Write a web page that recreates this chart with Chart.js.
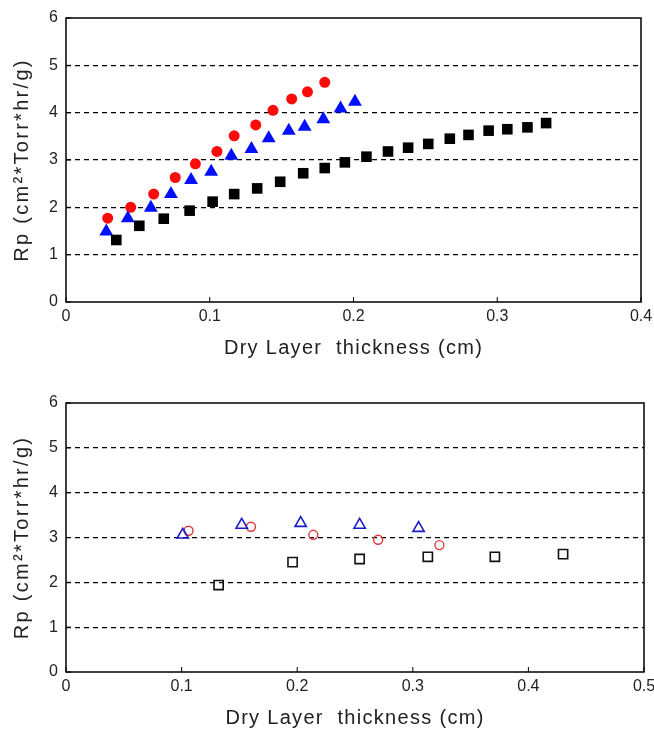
<!DOCTYPE html>
<html>
<head>
<meta charset="utf-8">
<script src="https://cdn.jsdelivr.net/npm/chart.js@4.4.1/dist/chart.umd.min.js"></script>
<style>
    body { margin: 0; background: #fff; }
    .wrap { position: absolute; left: 0; width: 654px; height: 360px; }
    #topWrap { top: 0; }
    #bottomWrap { top: 370px; }
</style>
</head>
<body>
<div class="wrap" id="topWrap"><canvas id="topChart" width="654" height="360"></canvas></div>
<div class="wrap" id="bottomWrap"><canvas id="bottomChart" width="654" height="360"></canvas></div>
<script>
// ─── Data ───

// top panel (filled markers)
const topRedX = [0.029, 0.045, 0.061, 0.076, 0.090, 0.105, 0.117, 0.132, 0.144, 0.157, 0.168, 0.180];
const topRedY = [1.77, 2.00, 2.28, 2.63, 2.92, 3.18, 3.51, 3.74, 4.05, 4.29, 4.44, 4.64];

const topBlueX = [0.028, 0.043, 0.059, 0.073, 0.087, 0.101, 0.115, 0.129, 0.141, 0.155, 0.166, 0.179, 0.191, 0.201];
const topBlueY = [1.49, 1.77, 1.99, 2.28, 2.58, 2.75, 3.09, 3.23, 3.46, 3.62, 3.70, 3.86, 4.09, 4.23];

const topBlackX = [0.035, 0.051, 0.068, 0.086, 0.102, 0.117, 0.133, 0.149, 0.165, 0.180, 0.194,
    0.209, 0.224, 0.238, 0.252, 0.267, 0.280, 0.294, 0.307, 0.321, 0.334];
const topBlackY = [1.31, 1.61, 1.76, 1.93, 2.12, 2.28, 2.40, 2.54, 2.72, 2.83, 2.95,
    3.07, 3.18, 3.26, 3.34, 3.45, 3.53, 3.62, 3.65, 3.69, 3.78];

// bottom panel (open markers)
const botBlueX = [0.101, 0.152, 0.203, 0.254, 0.305];
const botBlueY = [3.06, 3.28, 3.32, 3.28, 3.21];

const botRedX = [0.106, 0.160, 0.214, 0.270, 0.323];
const botRedY = [3.15, 3.24, 3.06, 2.95, 2.83];

const botBlackX = [0.132, 0.196, 0.254, 0.313, 0.371, 0.430];
const botBlackY = [1.94, 2.45, 2.52, 2.57, 2.57, 2.63];

// axes
const yTicks = [0, 1, 2, 3, 4, 5, 6];
const topXMax = 0.4;
const botXMax = 0.5;

const X_TITLE = 'Dry Layer  thickness (cm)';
const Y_TITLE = 'Rp (cm\u00B2*Torr*hr/g)';

const TICK_FONT = { family: "'Liberation Sans Narrow', 'Liberation Sans', Arial, sans-serif", size: 16 };
const TITLE_FONT = { family: "'Liberation Sans', Arial, sans-serif", size: 20 };

function pts(xs, ys) {
    return xs.map((x, i) => ({ x, y: ys[i] }));
}

// Frame box + small inward tick marks, like the original plot
const framePlugin = {
    id: 'frame',
    beforeDraw(chart) {
        // the original axis titles are widely spaced
        Object.values(chart.scales).forEach(s => {
            if (s._spaced) return;
            const orig = s.drawTitle;
            const spacing = s.axis === 'x' ? '1.3px' : '2.3px';
            s.drawTitle = function () {
                chart.ctx.save();
                chart.ctx.letterSpacing = spacing;
                orig.call(this);
                chart.ctx.restore();
            };
            s._spaced = true;
        });
    },
    afterDraw(chart) {
        const { ctx, chartArea: a, scales } = chart;
        ctx.save();
        ctx.strokeStyle = '#000';
        ctx.lineWidth = 1.5;
        ctx.strokeRect(a.left, a.top, a.right - a.left, a.bottom - a.top);
        ctx.lineWidth = 1;
        scales.x.ticks.forEach(t => {
            const px = scales.x.getPixelForValue(t.value);
            ctx.beginPath();
            ctx.moveTo(px, a.bottom);
            ctx.lineTo(px, a.bottom - 5);
            ctx.stroke();
        });
        scales.y.ticks.forEach(t => {
            const py = scales.y.getPixelForValue(t.value);
            ctx.beginPath();
            ctx.moveTo(a.left, py);
            ctx.lineTo(a.left + 5, py);
            ctx.stroke();
        });
        ctx.restore();
    }
};

function makeOptions(xMax, padTop, padRight) {
    return {
        responsive: false,
        animation: false,
        layout: { padding: { top: padTop, right: padRight, left: 0, bottom: 0 } },
        plugins: { legend: { display: false }, tooltip: { enabled: false } },
        scales: {
            x: {
                type: 'linear',
                min: 0,
                max: xMax,
                afterFit: s => {
                    s.height = 58;
                    s.paddingLeft = 0;
                    s.paddingRight = 0;
                },
                afterBuildTicks: s => {
                    const t = [];
                    for (let i = 0; i <= Math.round(xMax * 10); i++) t.push({ value: i / 10 });
                    s.ticks = t;
                },
                ticks: {
                    color: '#222',
                    font: TICK_FONT,
                    padding: 5,
                    maxRotation: 0,
                    callback: v => String(Number(v.toFixed(1)))
                },
                grid: { display: false, drawTicks: false },
                border: { display: false },
                title: { display: true, text: X_TITLE, color: '#222', font: TITLE_FONT, padding: { top: 0, bottom: 0 } }
            },
            y: {
                min: 0,
                max: 6,
                afterFit: s => {
                    s.width = 66;
                    s.paddingTop = 0;
                    s.paddingBottom = 0;
                },
                afterBuildTicks: s => { s.ticks = yTicks.map(v => ({ value: v })); },
                ticks: { color: '#222', font: TICK_FONT, padding: 8 },
                grid: {
                    drawTicks: false,
                    lineWidth: 1.3,
                    color: c => (c.tick && (c.tick.value === 0 || c.tick.value === 6)) ? 'rgba(0,0,0,0)' : '#000'
                },
                border: { display: false, dash: [5, 4] },
                title: { display: true, text: Y_TITLE, color: '#222', font: TITLE_FONT, padding: { top: 10, bottom: 0 } }
            }
        }
    };
}

new Chart(document.getElementById('topChart'), {
    type: 'scatter',
    data: {
        datasets: [
            {
                label: 'black',
                data: pts(topBlackX, topBlackY),
                pointStyle: 'rect',
                pointRadius: 7.5,
                backgroundColor: '#000',
                borderColor: '#000',
                borderWidth: 0
            },
            {
                label: 'blue',
                data: pts(topBlueX, topBlueY),
                pointStyle: 'triangle',
                pointRadius: 8,
                backgroundColor: '#0010ff',
                borderColor: '#0010ff',
                borderWidth: 0
            },
            {
                label: 'red',
                data: pts(topRedX, topRedY),
                pointStyle: 'circle',
                pointRadius: 5.5,
                backgroundColor: '#ff0a0a',
                borderColor: '#ff0a0a',
                borderWidth: 0
            }
        ]
    },
    options: makeOptions(topXMax, 18, 13),
    plugins: [framePlugin]
});

new Chart(document.getElementById('bottomChart'), {
    type: 'scatter',
    data: {
        datasets: [
            {
                label: 'black',
                data: pts(botBlackX, botBlackY),
                pointStyle: 'rect',
                pointRadius: 6.5,
                backgroundColor: 'rgba(0,0,0,0)',
                borderColor: '#111',
                borderWidth: 1.6
            },
            {
                label: 'blue',
                data: pts(botBlueX, botBlueY),
                pointStyle: 'triangle',
                pointRadius: 6.5,
                backgroundColor: 'rgba(0,0,0,0)',
                borderColor: '#1a1acc',
                borderWidth: 1.6
            },
            {
                label: 'red',
                data: pts(botRedX, botRedY),
                pointStyle: 'circle',
                pointRadius: 4.5,
                backgroundColor: 'rgba(0,0,0,0)',
                borderColor: '#e03a3a',
                borderWidth: 1.4
            }
        ]
    },
    options: makeOptions(botXMax, 33, 10),
    plugins: [framePlugin]
});
</script>
</body>
</html>
